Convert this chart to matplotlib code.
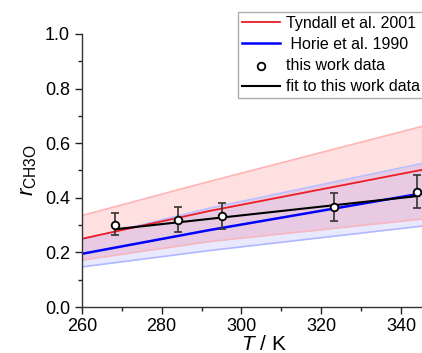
import matplotlib
matplotlib.use("Agg")
import matplotlib.pyplot as plt
from matplotlib.ticker import MultipleLocator

plt.rcParams['font.family'] = ['Liberation Sans', 'DejaVu Sans']
plt.rcParams['mathtext.fontset'] = 'custom'
plt.rcParams['mathtext.rm'] = 'Liberation Sans'
plt.rcParams['mathtext.it'] = 'Liberation Sans:italic'

# Literature curves (read at a few temperatures)
T_curve = [260, 292, 351.5]
tyndall = [0.25, 0.352, 0.52]
tyndall_hi = [0.335, 0.46, 0.685]
tyndall_lo = [0.172, 0.24, 0.332]
horie = [0.195, 0.282, 0.432]
horie_hi = [0.248, 0.362, 0.545]
horie_lo = [0.147, 0.207, 0.307]

# This work data
T_data = [268.3, 284.1, 295.1, 323.1, 344.1]
r_data = [0.300, 0.320, 0.333, 0.367, 0.422]
err_lo = [0.036, 0.045, 0.047, 0.052, 0.058]
err_hi = [0.043, 0.046, 0.047, 0.051, 0.061]

# Fit line
T_fit = [268.3, 344.5]
r_fit = [0.285, 0.407]

fig = plt.figure(figsize=(4.22, 3.53), dpi=100)
ax = fig.add_axes([0.194, 0.130, 0.865, 0.774])

ax.fill_between(T_curve, tyndall_lo, tyndall_hi, color='#ff0000', alpha=0.12, lw=0)
ax.plot(T_curve, tyndall_hi, color='#ffb3b3', lw=1.2)
ax.plot(T_curve, tyndall_lo, color='#f5b8c0', lw=1.2)
ax.fill_between(T_curve, horie_lo, horie_hi, color='#0000ff', alpha=0.09, lw=0)
ax.plot(T_curve, horie_hi, color='#b8c0ff', lw=1.2)
ax.plot(T_curve, horie_lo, color='#b0b8ff', lw=1.2)

l1, = ax.plot(T_curve, tyndall, color='#ee1c25', lw=1.3, label='Tyndall et al. 2001')
l2, = ax.plot(T_curve, horie, color='#0000ff', lw=1.8, label=' Horie et al. 1990')
l4, = ax.plot(T_fit, r_fit, color='black', lw=1.5, label='fit to this work data')
ax.errorbar(T_data, r_data, yerr=[err_lo, err_hi], fmt='none', ecolor='#333333',
            elinewidth=1.2, capsize=3, capthick=1.2, zorder=4)
l3 = ax.scatter(T_data, r_data, s=30, facecolor='white', edgecolor='black',
                linewidth=1.3, zorder=5, label='this work data')

ax.set_xlim(260, 351.5)
ax.set_ylim(0, 1.0)
ax.xaxis.set_major_locator(MultipleLocator(20))
ax.xaxis.set_minor_locator(MultipleLocator(10))
ax.yaxis.set_major_locator(MultipleLocator(0.2))
ax.yaxis.set_minor_locator(MultipleLocator(0.1))
ax.tick_params(which='major', direction='out', length=5, width=1, labelsize=13, colors='#222222')
ax.tick_params(which='minor', direction='out', length=3, width=1, colors='#222222')
ax.tick_params(axis='x', pad=3)
ax.tick_params(axis='x', labelcolor='black')
ax.tick_params(axis='y', labelcolor='black')
ax.spines['top'].set_visible(False)
ax.spines['right'].set_visible(False)
for s in ('left', 'bottom'):
    ax.spines[s].set_color('#333333')
    ax.spines[s].set_linewidth(1.0)

ax.set_xlabel(r'$T$ / K', fontsize=15, labelpad=0)
ax.set_ylabel(r'$r_{\mathrm{CH3O}}$', fontsize=16, labelpad=4)

leg = ax.legend(handles=[l1, l2, l3, l4], loc='upper left',
                bbox_to_anchor=(0.564, 0.966), bbox_transform=fig.transFigure,
                borderaxespad=0, fontsize=11.5, frameon=True, fancybox=False,
                edgecolor='#999999', handlelength=2.4, handletextpad=0.35,
                labelspacing=0.38, borderpad=0.25)
leg.get_frame().set_linewidth(1.0)

fig.savefig('out.png', dpi=100)
